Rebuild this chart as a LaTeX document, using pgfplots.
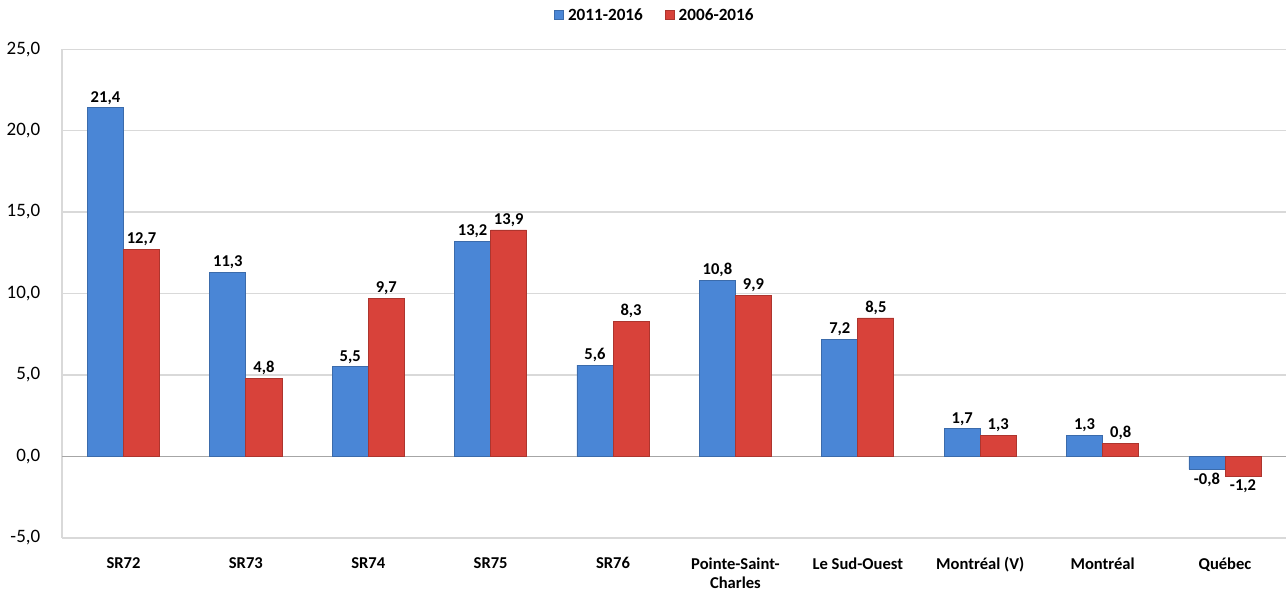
\documentclass[border=0pt]{standalone}
\usepackage{pgfplots}
\pgfplotsset{compat=1.18}
\usepackage{fontspec}
\setmainfont{Carlito}
\definecolor{barblue}{RGB}{74,134,214}
\definecolor{barred}{RGB}{216,66,58}
\definecolor{gridgray}{RGB}{217,217,217}
\begin{document}
\begin{tikzpicture}
\begin{axis}[
  scale only axis,
  width=611bp, height=244bp,
  ybar, bar width=18bp,
  ymin=-5, ymax=25, ytick={-5,0,...,25},
  xmin=-0.5, xmax=9.5,
  xtick={0,...,9},
  xticklabels={SR72,SR73,SR74,SR75,SR76,{Pointe-Saint-\\Charles},Le Sud-Ouest,Montréal (V),Montréal,Québec},
  xticklabel style={font=\fontsize{8.3}{9.5}\selectfont\bfseries, align=center, yshift=-2bp},
  major x tick style={draw=none},
  yticklabel style={font=\fontsize{9.5}{10}\selectfont, xshift=-7.5bp, /pgf/number format/.cd, fixed, fixed zerofill, precision=1, use comma, assume math mode=true},
  ymajorgrids, grid style={gridgray, line width=0.6pt},
  axis x line*=bottom, axis y line*=left,
  axis line style={gridgray, line width=0.8pt},
  major y tick style={draw=none},
  extra y ticks={0}, extra y tick labels={},
  extra y tick style={grid style={black!35, line width=0.7pt}},
  nodes near coords,
  every node near coord/.append style={font=\fontsize{8.3}{9}\selectfont\bfseries, inner sep=1.5bp, /pgf/number format/.cd, fixed, fixed zerofill, precision=1, use comma, assume math mode=true},
  legend style={at={(0.485,1)}, anchor=south, yshift=8bp, draw=none, legend columns=2, inner sep=2.5bp,
    font=\fontsize{8.6}{9}\selectfont\bfseries, /tikz/every even column/.append style={column sep=9bp}},
  legend image code/.code={\fill[#1] (0bp,-1.5bp) rectangle (4.5bp,3bp);},
]
\addplot[fill=barblue, draw=barblue!80!black, bar shift=-9bp] coordinates {(0,21.4) (1,11.3) (2,5.5) (3,13.2) (4,5.6) (5,10.8) (6,7.2) (7,1.7) (8,1.3) (9,-0.8)};
\addlegendentry{2011-2016}
\addplot[fill=barred, draw=barred!80!black, bar shift=9bp] coordinates {(0,12.7) (1,4.8) (2,9.7) (3,13.9) (4,8.3) (5,9.9) (6,8.5) (7,1.3) (8,0.8) (9,-1.2)};
\addlegendentry{2006-2016}
\end{axis}
\end{tikzpicture}
\end{document}
